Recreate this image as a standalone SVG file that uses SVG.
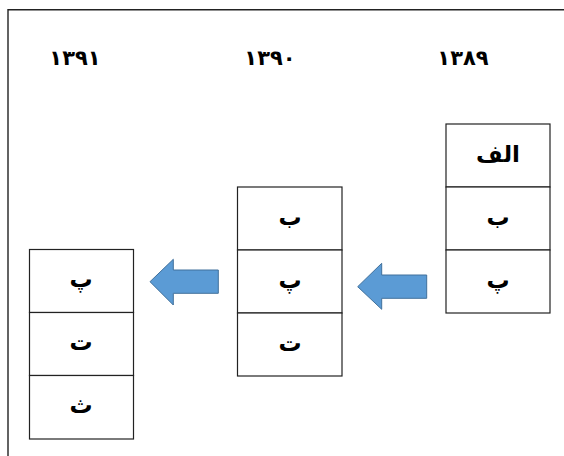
<svg xmlns="http://www.w3.org/2000/svg" width="564" height="456" viewBox="0 0 564 456">
<style>
.cell{fill:#fff;stroke:#222;stroke-width:1.2}
.t{font-family:"DejaVu Sans","Noto Sans",sans-serif;font-weight:bold;font-size:23px;text-anchor:middle;fill:#000}
.y{font-family:"DejaVu Sans","Noto Sans",sans-serif;font-weight:bold;font-size:21px;text-anchor:middle;fill:#000}
.arr{fill:#5B9BD5;stroke:#41719C;stroke-width:1}
</style>
<rect x="0" y="0" width="564" height="456" fill="#fff"/>
<path d="M8 456 V9.8 H564" fill="none" stroke="#222" stroke-width="1.4"/>
<g id="year-1391"><text class="y" x="75" y="65">۱۳۹۱</text></g>
<g id="year-1390"><text class="y" x="270" y="65">۱۳۹۰</text></g>
<g id="year-1389"><text class="y" x="463" y="65">۱۳۸۹</text></g>
<g id="col-1389">
<rect class="cell" x="446" y="124" width="104" height="63"/>
<rect class="cell" x="446" y="187" width="104" height="63"/>
<rect class="cell" x="446" y="250" width="104" height="63"/>
<text class="t" x="498" y="162">الف</text>
<text class="t" x="498" y="225">ب</text>
<text class="t" x="498" y="288">پ</text>
</g>
<g id="col-1390">
<rect class="cell" x="237.5" y="187" width="104.5" height="63"/>
<rect class="cell" x="237.5" y="250" width="104.5" height="63"/>
<rect class="cell" x="237.5" y="313" width="104.5" height="63"/>
<text class="t" x="290" y="225">ب</text>
<text class="t" x="290" y="288">پ</text>
<text class="t" x="290" y="351">ت</text>
</g>
<g id="col-1391">
<rect class="cell" x="29.5" y="249.5" width="104" height="63"/>
<rect class="cell" x="29.5" y="312.5" width="104" height="63"/>
<rect class="cell" x="29.5" y="375.5" width="104" height="63.5"/>
<text class="t" x="81" y="287">پ</text>
<text class="t" x="81" y="350">ت</text>
<text class="t" x="81" y="413">ث</text>
</g>
<g id="connectors">
<path class="arr" d="M357.7 286.7 L381.7 263.3 V275 H426.7 V298.3 H381.7 V309.3 Z"/>
<path class="arr" d="M150 281.7 L173.3 259.3 V270 H218.3 V293.3 H173.3 V305 Z"/>
</g>
</svg>
